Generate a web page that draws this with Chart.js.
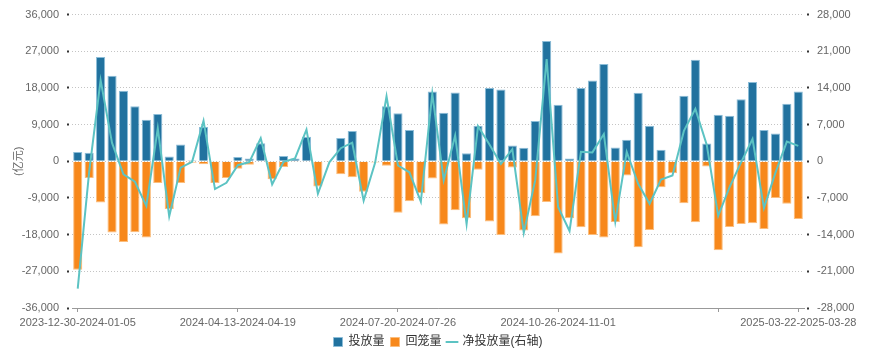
<!DOCTYPE html>
<html>
<head>
<meta charset="utf-8">
<script src="https://cdn.jsdelivr.net/npm/chart.js@4/dist/chart.umd.min.js"></script>
<style>
  html, body { margin: 0; padding: 0; background: #fff; }
  #wrap { width: 876px; height: 358px; }
</style>
</head>
<body>
<div id="wrap"><canvas id="barChart"></canvas></div>
<script>
// weekly periods (one holiday week missing in Feb 2024)
const weeks = [
  '2023-12-30-2024-01-05', '2024-01-06-2024-01-12', '2024-01-13-2024-01-19', '2024-01-20-2024-01-26',
  '2024-01-27-2024-02-02', '2024-02-03-2024-02-09', '2024-02-17-2024-02-23', '2024-02-24-2024-03-01',
  '2024-03-02-2024-03-08', '2024-03-09-2024-03-15', '2024-03-16-2024-03-22', '2024-03-23-2024-03-29',
  '2024-03-30-2024-04-05', '2024-04-06-2024-04-12', '2024-04-13-2024-04-19', '2024-04-20-2024-04-26',
  '2024-04-27-2024-05-03', '2024-05-04-2024-05-10', '2024-05-11-2024-05-17', '2024-05-18-2024-05-24',
  '2024-05-25-2024-05-31', '2024-06-01-2024-06-07', '2024-06-08-2024-06-14', '2024-06-15-2024-06-21',
  '2024-06-22-2024-06-28', '2024-06-29-2024-07-05', '2024-07-06-2024-07-12', '2024-07-13-2024-07-19',
  '2024-07-20-2024-07-26', '2024-07-27-2024-08-02', '2024-08-03-2024-08-09', '2024-08-10-2024-08-16',
  '2024-08-17-2024-08-23', '2024-08-24-2024-08-30', '2024-08-31-2024-09-06', '2024-09-07-2024-09-13',
  '2024-09-14-2024-09-20', '2024-09-21-2024-09-27', '2024-09-28-2024-10-04', '2024-10-05-2024-10-11',
  '2024-10-12-2024-10-18', '2024-10-19-2024-10-25', '2024-10-26-2024-11-01', '2024-11-02-2024-11-08',
  '2024-11-09-2024-11-15', '2024-11-16-2024-11-22', '2024-11-23-2024-11-29', '2024-11-30-2024-12-06',
  '2024-12-07-2024-12-13', '2024-12-14-2024-12-20', '2024-12-21-2024-12-27', '2024-12-28-2025-01-03',
  '2025-01-04-2025-01-10', '2025-01-11-2025-01-17', '2025-01-18-2025-01-24', '2025-01-25-2025-01-31',
  '2025-02-01-2025-02-07', '2025-02-08-2025-02-14', '2025-02-15-2025-02-21', '2025-02-22-2025-02-28',
  '2025-03-01-2025-03-07', '2025-03-08-2025-03-14', '2025-03-15-2025-03-21', '2025-03-22-2025-03-28'
];

// 投放量 (亿元)
const injection = [
  2300, 2100, 25600, 21000, 17300, 13500, 10200, 11600, 1150, 4100,
  250, 8400, 0, 0, 1050, 700, 4400, 0, 1300, 700,
  6050, 0, 0, 5700, 7450, 0, 0, 13500, 11800, 7700,
  150, 17100, 11900, 16900, 2000, 8750, 18000, 17600, 3850, 3350,
  9900, 29500, 13900, 700, 18000, 19800, 23900, 3400, 5300, 16800,
  8750, 2850, 250, 16100, 24950, 4350, 11450, 11200, 15200, 19450,
  7700, 6800, 14150, 17100
];

// 回笼量 (亿元, 负值)
const withdrawal = [
  -26600, -4100, -10100, -17500, -19800, -17400, -18700, -5300, -11700, -5300,
  -330, -700, -5300, -4100, -1800, -850, 0, -4400, -1400, -150,
  0, -6200, -200, -3200, -3900, -7500, -300, -1100, -12600, -9800,
  -7850, -4200, -15500, -12000, -14000, -2050, -14800, -18100, -1550, -17000,
  -13500, -10000, -22600, -14000, -16200, -18100, -18700, -14900, -3500, -21100,
  -16850, -6350, -2950, -10300, -14950, -1250, -21850, -16100, -15400, -15200,
  -16600, -9000, -10400, -14150
];

// 净投放量 (右轴)
const netInjection = [
  -24300, -2000, 15500, 3500, -2500, -3900, -8500, 6300, -10500, -1200,
  -100, 7700, -5300, -4100, -750, -150, 4400, -4400, -100, 550,
  6050, -6200, -200, 2500, 3550, -7500, -300, 12400, -800, -2100,
  -7700, 12900, -3600, 4900, -12000, 6700, 3200, -500, 2300, -13650,
  -3600, 19500, -8700, -13300, 1800, 1700, 5200, -11500, 1800, -4300,
  -8100, -3500, -2700, 5800, 10000, 3100, -10400, -4900, -200, 4250,
  -8900, -2200, 3750, 2950
];

const labelIdx = [0, 14, 28, 42, 63];
const markOnlyIdx = [56];

const fontFamily = 'Arial, "Liberation Sans", "Noto Sans CJK SC", sans-serif';
const textColor = '#666';
const fmt = v => v.toLocaleString('en-US');

const ctx = document.getElementById('barChart');

new Chart(ctx, {
    type: 'bar',
    data: {
        labels: weeks,
        datasets: [{
            label: '投放量',
            data: injection,
            backgroundColor: '#21729f',
            borderColor: '#8cbdd8',
            borderWidth: 1,
            pointStyle: 'rect',
            yAxisID: 'y',
            order: 2
        }, {
            label: '回笼量',
            data: withdrawal,
            backgroundColor: '#f7881b',
            borderColor: '#fbbd7c',
            borderWidth: 1,
            pointStyle: 'rect',
            yAxisID: 'y',
            order: 3
        }, {
            type: 'line',
            label: '净投放量(右轴)',
            data: netInjection,
            borderColor: '#5cc3c3',
            backgroundColor: '#5cc3c3',
            borderWidth: 2,
            pointRadius: 0,
            pointStyle: 'line',
            tension: 0,
            yAxisID: 'y1',
            order: 1
        }]
    },
    options: {
        responsive: true,
        maintainAspectRatio: false,
        animation: false,
        datasets: {
            bar: { barPercentage: 0.8, categoryPercentage: 1 }
        },
        layout: { padding: { top: 12, left: 0, right: 0, bottom: 0 } },
        plugins: {
            tooltip: { enabled: false },
            legend: {
                position: 'bottom',
                maxHeight: 29,
                labels: {
                    usePointStyle: true,
                    boxWidth: 9,
                    boxHeight: 9,
                    padding: 6,
                    color: '#333',
                    font: { family: fontFamily, size: 12 },
                    sort: (a, b) => a.datasetIndex - b.datasetIndex
                }
            }
        },
        scales: {
            x: {
                stacked: true,
                afterFit: s => { s.height = 22; },
                border: { display: true, color: '#999' },
                grid: {
                    offset: false,
                    drawOnChartArea: false,
                    drawTicks: true,
                    tickLength: 4,
                    tickColor: '#999'
                },
                ticks: {
                    autoSkip: false,
                    maxRotation: 0,
                    minRotation: 0,
                    padding: 4,
                    color: textColor,
                    font: { family: fontFamily, size: 11 },
                    callback: function (value, index) {
                        if (labelIdx.includes(index)) return this.getLabelForValue(value);
                        if (markOnlyIdx.includes(index)) return '';
                        return null;
                    }
                }
            },
            y: {
                stacked: true,
                position: 'left',
                min: -36000,
                max: 36000,
                afterFit: s => { s.width = 72; },
                border: { display: false, dash: [1, 2] },
                grid: {
                    color: '#c4c4c4',
                    tickColor: '#333',
                    tickLength: 5,
                    tickWidth: 2,
                    tickBorderDash: [2, 3]
                },
                ticks: {
                    stepSize: 9000,
                    padding: 8,
                    color: textColor,
                    font: { family: fontFamily, size: 11 },
                    callback: v => fmt(v)
                },
                title: {
                    display: true,
                    text: '(亿元)',
                    color: textColor,
                    padding: { top: 12, bottom: 0 },
                    font: { family: fontFamily, size: 11 }
                }
            },
            y1: {
                position: 'right',
                min: -28000,
                max: 28000,
                afterFit: s => { s.width = 72; },
                border: { display: false },
                grid: {
                    drawOnChartArea: false,
                    tickColor: '#333',
                    tickLength: 5,
                    tickWidth: 2,
                    tickBorderDash: [2, 3],
                    tickBorderDashOffset: 2
                },
                ticks: {
                    stepSize: 7000,
                    padding: 8,
                    color: textColor,
                    font: { family: fontFamily, size: 11 },
                    callback: v => fmt(v)
                }
            }
        }
    }
});
</script>
</body>
</html>
